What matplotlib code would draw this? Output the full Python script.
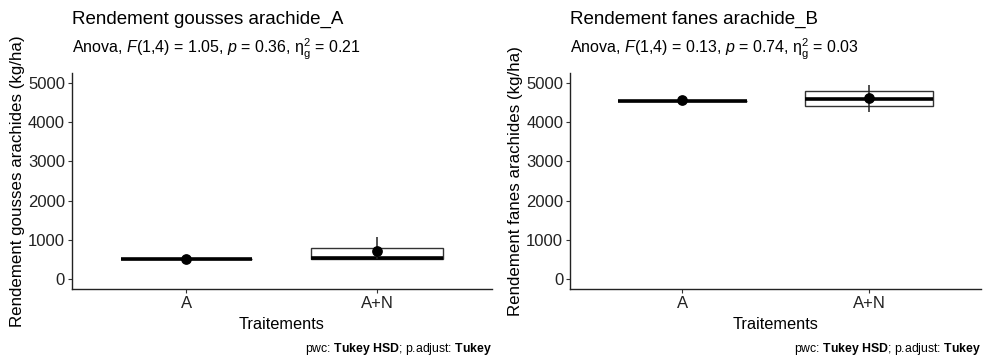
import matplotlib
matplotlib.use("Agg")
import matplotlib.pyplot as plt

plt.rcParams["font.family"] = ["Liberation Sans", "DejaVu Sans"]
plt.rcParams["mathtext.fontset"] = "custom"
plt.rcParams["mathtext.rm"] = "Liberation Sans"
plt.rcParams["mathtext.it"] = "Liberation Sans:italic"
plt.rcParams["mathtext.bf"] = "Liberation Sans:bold"

treatments = ["A", "A+N"]

# panel A: rendement gousses
gousses_q1 = [510, 513]
gousses_med = [510, 545]
gousses_q3 = [510, 803]
gousses_mean = [515, 708]
gousses_err_lo = [515, 513]
gousses_err_hi = [515, 1067]

# panel B: rendement fanes
fanes_q1 = [4546, 4418]
fanes_med = [4546, 4597]
fanes_q3 = [4546, 4787]
fanes_mean = [4550, 4610]
fanes_err_lo = [4550, 4249]
fanes_err_hi = [4550, 4949]

panels = [
    ("Rendement gousses arachide_A",
     r"Anova, $F$(1,4) = 1.05, $p$ = 0.36, $\mathrm{\eta^2_g}$ = 0.21",
     "Rendement gousses arachides (kg/ha)",
     gousses_q1, gousses_med, gousses_q3, gousses_mean, gousses_err_lo, gousses_err_hi),
    ("Rendement fanes arachide_B",
     r"Anova, $F$(1,4) = 0.13, $p$ = 0.74, $\mathrm{\eta^2_g}$ = 0.03",
     "Rendement fanes arachides (kg/ha)",
     fanes_q1, fanes_med, fanes_q3, fanes_mean, fanes_err_lo, fanes_err_hi),
]

fig = plt.figure(figsize=(9.83, 3.56), dpi=100)
axes_pos = [[0.0732, 0.188, 0.427, 0.607], [0.580, 0.188, 0.418, 0.607]]

for pos, (title, sub, ylabel, q1, med, q3, mean, lo, hi) in zip(axes_pos, panels):
    ax = fig.add_axes(pos)
    x = list(range(1, len(treatments) + 1))
    stats = []
    for i in range(len(treatments)):
        stats.append(dict(med=med[i], q1=q1[i], q3=q3[i],
                          whislo=q1[i], whishi=q3[i], fliers=[]))
    ax.bxp(stats, positions=x, widths=0.69, showcaps=False, patch_artist=True,
           boxprops=dict(facecolor="white", edgecolor="#333333", linewidth=1.0),
           medianprops=dict(color="black", linewidth=2.6, solid_capstyle="butt"),
           whiskerprops=dict(linewidth=0))
    for i in range(len(treatments)):
        if hi[i] > lo[i]:
            ax.vlines(x[i], lo[i], hi[i], color="#222222", linewidth=1.1, zorder=4)
    ax.scatter(x, mean, s=45, color="black", zorder=5)

    ax.set_xlim(0.4, 2.6)
    ax.set_ylim(-250, 5250)
    ax.set_yticks([0, 1000, 2000, 3000, 4000, 5000])
    ax.set_xticks(x)
    ax.set_xticklabels(treatments)
    for s in ["top", "right"]:
        ax.spines[s].set_visible(False)
    for s in ["left", "bottom"]:
        ax.spines[s].set_linewidth(1.0)
        ax.spines[s].set_color("#222222")
    ax.tick_params(axis="both", labelsize=12, length=3, width=0.8,
                   color="#333333", labelcolor="#222222", pad=2)
    ax.set_xlabel("Traitements", fontsize=11.8, labelpad=4)
    ax.set_ylabel(ylabel, fontsize=12.2, labelpad=2)

    ax.text(0.0, 1.0 + 54 / 216, title, transform=ax.transAxes, fontsize=13.5,
            ha="left", va="center")
    ax.text(0.0, 1.0 + 24 / 216, sub, transform=ax.transAxes, fontsize=11.5,
            ha="left", va="center")
    ax.text(1.0, -60 / 216, r"pwc: $\mathbf{Tukey\ HSD}$; p.adjust: $\mathbf{Tukey}$",
            transform=ax.transAxes, fontsize=8.8, ha="right", va="center")

fig.savefig("out.png", dpi=100)
